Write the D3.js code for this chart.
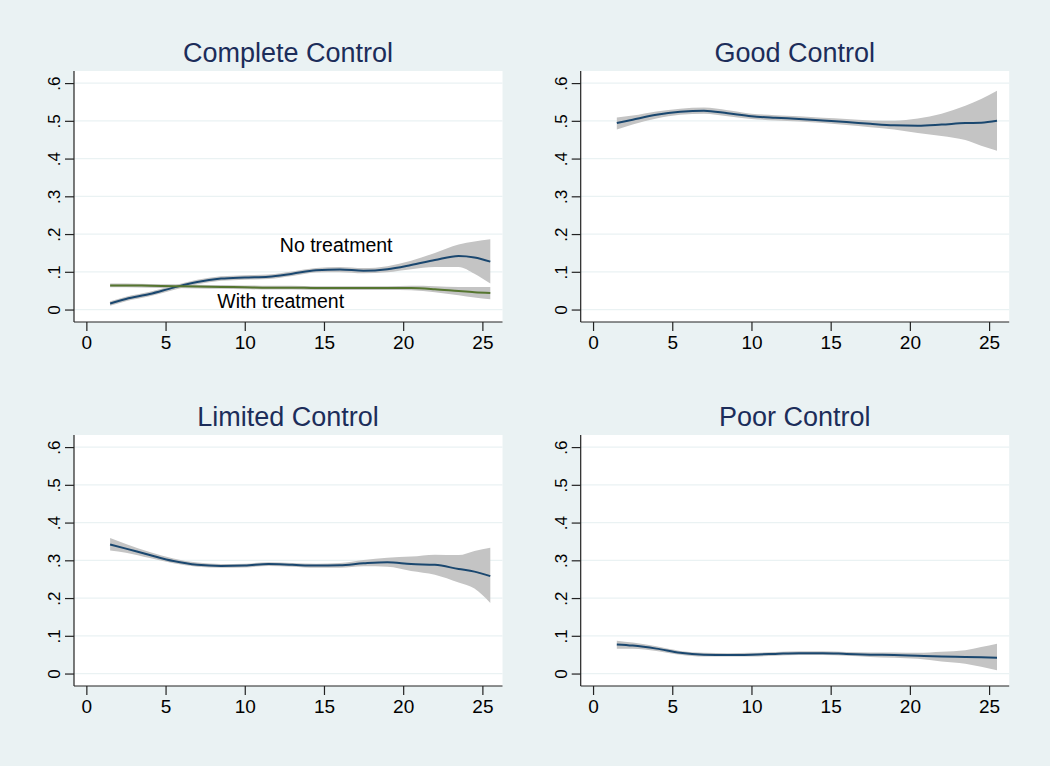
<!DOCTYPE html>
<html><head><meta charset="utf-8">
<script src="https://cdn.jsdelivr.net/npm/d3@7"></script>
<style>
html,body{margin:0;padding:0;background:#eaf2f3;}
svg{display:block;font-family:"Liberation Sans",Arial,Helvetica,sans-serif;}
</style></head>
<body>
<svg id="chart" width="1050" height="766"></svg>
<script>
// Age grid (x values)
const ageGrid = [1.5, 2.5, 4, 5.5, 7, 8.5, 10, 11.5, 13, 14.5, 16, 17.5, 19, 20.5, 22, 23.5, 24.5, 25.5];
const xTicks = [0, 5, 10, 15, 20, 25];
const yTicks = [0, 0.1, 0.2, 0.3, 0.4, 0.5, 0.6];
const yTickLabels = ["0", ".1", ".2", ".3", ".4", ".5", ".6"];
const panelTitles = ["Complete Control", "Good Control", "Limited Control", "Poor Control"];
const seriesLabels = ["No treatment", "With treatment"];

// Complete Control - no treatment
const completeNoVal = [0.016,0.028,0.041,0.058,0.073,0.082,0.085,0.087,0.095,0.104,0.106,0.103,0.107,0.118,0.131,0.142,0.138,0.127];
const completeNoLo  = [0.010,0.022,0.035,0.052,0.067,0.076,0.079,0.081,0.089,0.098,0.099,0.096,0.099,0.107,0.113,0.113,0.095,0.069];
const completeNoHi  = [0.022,0.034,0.047,0.064,0.079,0.088,0.091,0.093,0.101,0.110,0.113,0.110,0.115,0.129,0.150,0.172,0.180,0.186];
// Complete Control - with treatment
const completeTxVal = [0.064,0.064,0.063,0.062,0.061,0.060,0.059,0.058,0.058,0.057,0.057,0.057,0.057,0.057,0.054,0.049,0.046,0.044];
const completeTxLo  = [0.059,0.059,0.058,0.057,0.056,0.055,0.054,0.053,0.053,0.052,0.052,0.052,0.052,0.051,0.046,0.038,0.032,0.027];
const completeTxHi  = [0.069,0.069,0.068,0.067,0.066,0.065,0.064,0.063,0.063,0.062,0.062,0.062,0.062,0.063,0.062,0.060,0.060,0.060];
// Good Control
const goodVal = [0.494,0.503,0.516,0.524,0.527,0.520,0.512,0.508,0.505,0.501,0.497,0.492,0.488,0.487,0.490,0.494,0.495,0.500];
const goodLo  = [0.477,0.490,0.506,0.516,0.519,0.512,0.505,0.501,0.498,0.494,0.489,0.483,0.477,0.468,0.460,0.449,0.434,0.421];
const goodHi  = [0.509,0.514,0.525,0.532,0.535,0.528,0.519,0.515,0.512,0.508,0.505,0.501,0.500,0.506,0.519,0.540,0.558,0.580];
// Limited Control
const limitedVal = [0.342,0.331,0.314,0.298,0.288,0.285,0.286,0.290,0.288,0.286,0.287,0.292,0.295,0.290,0.288,0.277,0.270,0.258];
const limitedLo  = [0.326,0.320,0.306,0.292,0.283,0.280,0.281,0.285,0.283,0.280,0.280,0.284,0.283,0.272,0.262,0.241,0.225,0.187];
const limitedHi  = [0.359,0.343,0.322,0.305,0.294,0.290,0.291,0.295,0.293,0.291,0.293,0.301,0.307,0.310,0.315,0.314,0.325,0.333];
// Poor Control
const poorVal = [0.077,0.074,0.066,0.055,0.050,0.049,0.050,0.052,0.054,0.054,0.052,0.050,0.049,0.047,0.045,0.044,0.043,0.042];
const poorLo  = [0.066,0.066,0.060,0.050,0.045,0.045,0.045,0.047,0.049,0.049,0.047,0.044,0.042,0.039,0.032,0.026,0.018,0.009];
const poorHi  = [0.087,0.082,0.072,0.060,0.055,0.054,0.055,0.057,0.059,0.059,0.057,0.056,0.056,0.055,0.058,0.062,0.070,0.079];

const BLUE = "#1a476f", GREEN = "#55752f", CI = "#c4c4c4";

const panels = [
  {title: panelTitles[0], x0: 74, y0: 71, series: [
    {val: completeNoVal, lo: completeNoLo, hi: completeNoHi, color: BLUE},
    {val: completeTxVal, lo: completeTxLo, hi: completeTxHi, color: GREEN}],
   labels: [{text: seriesLabels[0], x: 15.77, y: 0.152}, {text: seriesLabels[1], x: 12.27, y: 0.005}]},
  {title: panelTitles[1], x0: 580.7, y0: 71, series: [{val: goodVal, lo: goodLo, hi: goodHi, color: BLUE}], labels: []},
  {title: panelTitles[2], x0: 74, y0: 435, series: [{val: limitedVal, lo: limitedLo, hi: limitedHi, color: BLUE}], labels: []},
  {title: panelTitles[3], x0: 580.7, y0: 435, series: [{val: poorVal, lo: poorLo, hi: poorHi, color: BLUE}], labels: []}
];

const W = 428.5, H = 251;
const FONT = "Liberation Sans, Arial, sans-serif";
const svg = d3.select("#chart");
svg.append("rect").attr("width", 1050).attr("height", 766).attr("fill", "#eaf2f3");

panels.forEach(p => {
  const g = svg.append("g").attr("transform", `translate(${p.x0},${p.y0})`);
  const x = d3.scaleLinear().domain([-0.78, 26.27]).range([0, W]);
  const y = d3.scaleLinear().domain([-0.033, 0.632]).range([H, 0]);

  g.append("rect").attr("width", W).attr("height", H).attr("fill", "#ffffff");
  g.selectAll("line.grid").data(yTicks).enter().append("line")
    .attr("x1", 0).attr("x2", W).attr("y1", d => y(d)).attr("y2", d => y(d))
    .attr("stroke", "#eaf2f3").attr("stroke-width", 1.3);

  const area = d3.area().x((d, i) => x(ageGrid[i])).y0(d => y(d[0])).y1(d => y(d[1])).curve(d3.curveMonotoneX);
  const line = d3.line().x((d, i) => x(ageGrid[i])).y(d => y(d)).curve(d3.curveMonotoneX);

  p.series.forEach(s => {
    g.append("path").datum(s.lo.map((l, i) => [l, s.hi[i]])).attr("d", area).attr("fill", CI).attr("stroke", "none");
  });
  p.series.forEach(s => {
    g.append("path").datum(s.val).attr("d", line).attr("fill", "none").attr("stroke", s.color).attr("stroke-width", 2);
  });

  // axes
  const xAxis = d3.axisBottom(x).tickValues(xTicks).tickSize(9).tickPadding(4).tickFormat(d3.format("d"));
  const ax = g.append("g").attr("transform", `translate(0,${H})`).call(xAxis);
  ax.attr("font-size", null).attr("font-family", null);
  ax.select(".domain").attr("d", `M0,0H${W}`).attr("stroke", "#222").attr("stroke-width", 1.2);
  ax.selectAll(".tick line").attr("stroke", "#222").attr("stroke-width", 1.2);
  ax.selectAll(".tick text").style("font-size", "19px").attr("fill", "#000").style("font-family", FONT)
    .attr("y", 14).attr("dy", "0.71em");

  const yAxis = d3.axisLeft(y).tickValues(yTicks).tickSize(9).tickFormat((d, i) => yTickLabels[i]);
  const ay = g.append("g").call(yAxis);
  ay.attr("font-size", null).attr("font-family", null);
  ay.select(".domain").attr("d", `M0,0V${H}`).attr("stroke", "#222").attr("stroke-width", 1.2);
  ay.selectAll(".tick line").attr("stroke", "#222").attr("stroke-width", 1.2);
  ay.selectAll(".tick text").style("font-size", "17px").attr("fill", "#000")
    .style("font-family", FONT)
    .attr("x", null).attr("dy", null)
    .attr("text-anchor", "middle")
    .attr("transform", "translate(-14,0) rotate(-90)");

  p.labels.forEach(l => {
    g.append("text").attr("x", x(l.x)).attr("y", y(l.y)).attr("text-anchor", "middle")
      .style("font-size", "19.5px").attr("fill", "#000").text(l.text);
  });

  svg.append("text").attr("x", p.x0 + 214).attr("y", p.y0 - 9.5).attr("text-anchor", "middle")
    .style("font-size", "27px").attr("fill", "#1c2d5a").text(p.title);
});
</script>
</body></html>
